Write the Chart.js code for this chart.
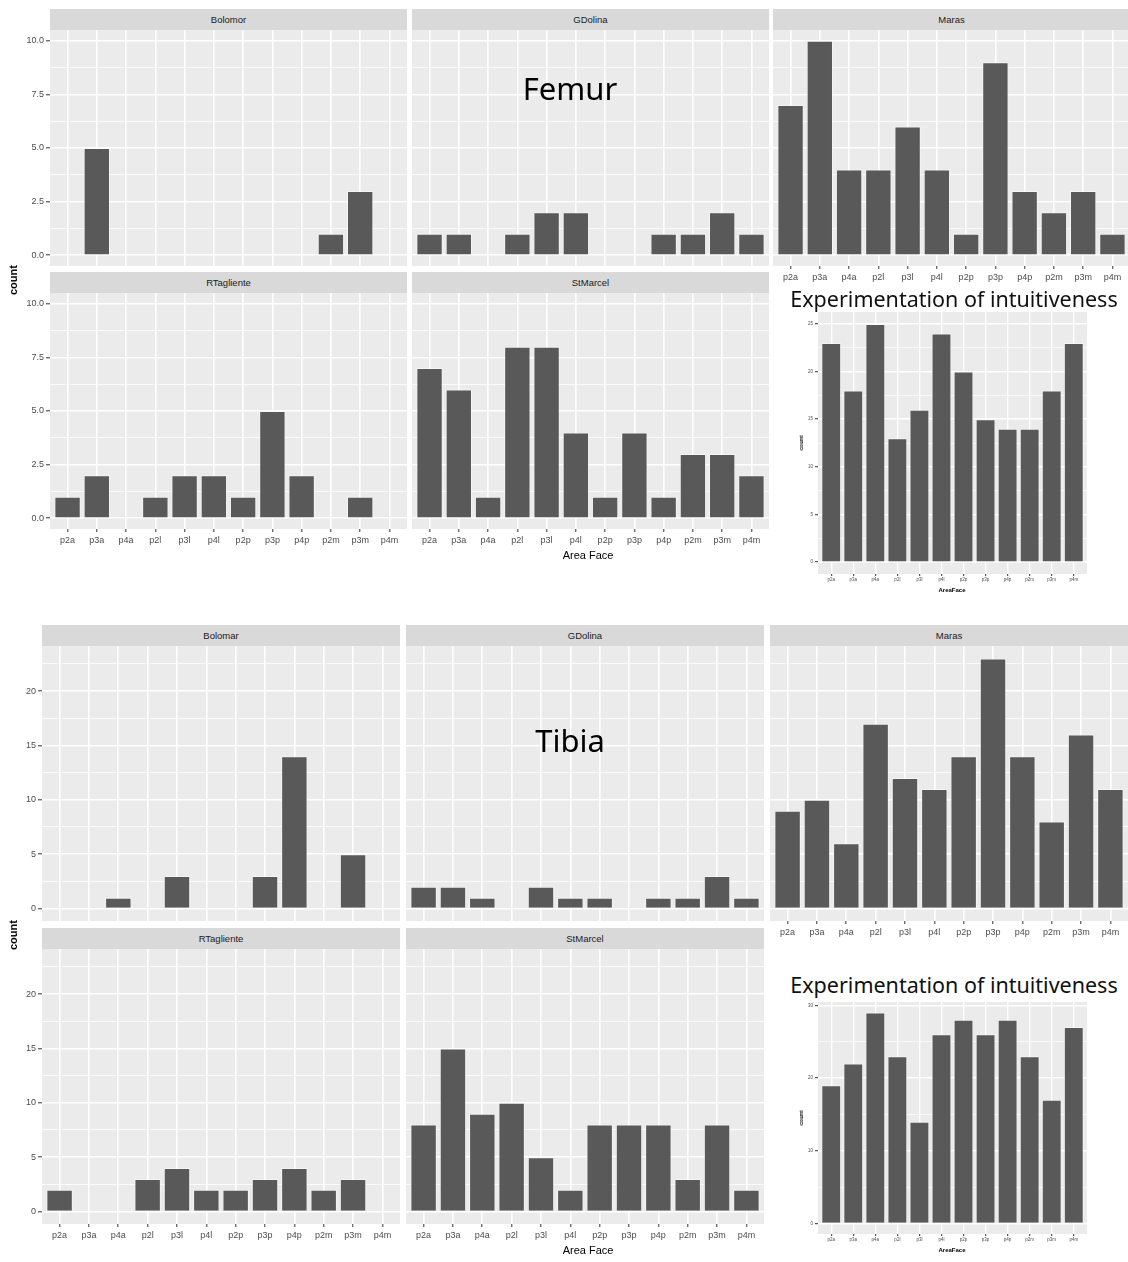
<!DOCTYPE html>
<html lang="en">
<head>
<meta charset="UTF-8">
<title>Area Face counts - Femur and Tibia</title>
<script src="https://cdn.jsdelivr.net/npm/chart.js"></script>
<style>
  body { margin: 0; background: #fff; font-family: 'Liberation Sans', Arial, sans-serif; }
  #figure { position: relative; width: 1128px; height: 1262px; overflow: hidden; background: #fff; }
  canvas { position: absolute; }
  .strip {
    position: absolute; background: #D9D9D9; color: #1A1A1A; font-size: 9.5px;
    display: flex; align-items: center; justify-content: center;
  }
  .lbl { position: absolute; transform: translate(-50%, -50%); white-space: nowrap; color: #000; }
</style>
</head>
<body>
<div id="figure"></div>
<script>
// x categories (shared by every panel)
const areaFace = ['p2a', 'p3a', 'p4a', 'p2l', 'p3l', 'p4l', 'p2p', 'p3p', 'p4p', 'p2m', 'p3m', 'p4m'];

// Femur counts per site
const femurSites = ['Bolomor', 'GDolina', 'Maras', 'RTagliente', 'StMarcel'];
const femurBolomor    = [0, 5, 0, 0, 0, 0, 0, 0, 0, 1, 3, 0];
const femurGDolina    = [1, 1, 0, 1, 2, 2, 0, 0, 1, 1, 2, 1];
const femurMaras      = [7, 10, 4, 4, 6, 4, 1, 9, 3, 2, 3, 1];
const femurRTagliente = [1, 2, 0, 1, 2, 2, 1, 5, 2, 0, 1, 0];
const femurStMarcel   = [7, 6, 1, 8, 8, 4, 1, 4, 1, 3, 3, 2];
const femurExperiment = [23, 18, 25, 13, 16, 24, 20, 15, 14, 14, 18, 23];

// Tibia counts per site
const tibiaSites = ['Bolomar', 'GDolina', 'Maras', 'RTagliente', 'StMarcel'];
const tibiaBolomar    = [0, 0, 1, 0, 3, 0, 0, 3, 14, 0, 5, 0];
const tibiaGDolina    = [2, 2, 1, 0, 2, 1, 1, 0, 1, 1, 3, 1];
const tibiaMaras      = [9, 10, 6, 17, 12, 11, 14, 23, 14, 8, 16, 11];
const tibiaRTagliente = [2, 0, 0, 3, 4, 2, 2, 3, 4, 2, 3, 0];
const tibiaStMarcel   = [8, 15, 9, 10, 5, 2, 8, 8, 8, 3, 8, 2];
const tibiaExperiment = [19, 22, 29, 23, 14, 26, 28, 26, 28, 23, 17, 27];

// y tick labels
const femurYTicks = [0, 2.5, 5, 7.5, 10];
const tibiaYTicks = [0, 5, 10, 15, 20];
const femurExpYTicks = [0, 5, 10, 15, 20, 25];
const tibiaExpYTicks = [0, 10, 20, 30];

const fig = document.getElementById('figure');

function addText(text, x, y, css) {
  const d = document.createElement('div');
  d.className = 'lbl';
  d.textContent = text;
  d.style.left = x + 'px';
  d.style.top = y + 'px';
  Object.assign(d.style, css || {});
  fig.appendChild(d);
}

function addStrip(text, x, y, w, h) {
  const d = document.createElement('div');
  d.className = 'strip';
  d.textContent = text;
  d.style.left = x + 'px';
  d.style.top = y + 'px';
  d.style.width = w + 'px';
  d.style.height = h + 'px';
  fig.appendChild(d);
}

// grey panel background like ggplot
const panelBg = {
  id: 'panelBg',
  beforeDraw(chart) {
    const { ctx, chartArea: a } = chart;
    ctx.save();
    ctx.fillStyle = '#EBEBEB';
    ctx.fillRect(a.left, a.top, a.right - a.left, a.bottom - a.top);
    ctx.restore();
  }
};

// ggplot-like minor breaks halfway between the majors
function minorTicks(majors, lo, hi) {
  const step = majors[1] - majors[0];
  const out = [];
  for (let v = majors[0] - step / 2; v <= hi; v += step) if (v >= lo) out.push(v);
  return out;
}

// 5% expansion of the data range, as ggplot does
function yRange(series) {
  const top = Math.max(...series.map(s => Math.max(...s)));
  return [-0.05 * top, 1.05 * top];
}

function addPanel(o) {
  const majors = o.yTicks;
  const allY = majors.concat(minorTicks(majors, o.yMin, o.yMax)).sort((a, b) => a - b);
  const isMajor = v => majors.some(m => Math.abs(m - v) < 1e-9);
  const W = o.w + o.yW, H = o.h + o.xH;
  const cv = document.createElement('canvas');
  cv.width = W; cv.height = H;
  cv.style.left = (o.x - o.yW) + 'px';
  cv.style.top = o.y + 'px';
  cv.style.width = W + 'px';
  cv.style.height = H + 'px';
  fig.appendChild(cv);

  const tickFont = { family: "'Liberation Sans', Arial, sans-serif", size: o.font };

  new Chart(cv, {
    type: 'bar',
    data: {
      datasets: [{
        data: o.values.map((v, i) => ({ x: i + 1, y: v })),
        backgroundColor: '#595959',
        borderColor: 'rgba(255,255,255,0.45)',
        borderWidth: ctx => (ctx.raw && ctx.raw.y ? 1 : 0),
        categoryPercentage: 1,
        barPercentage: 0.9
      }]
    },
    options: {
      responsive: false,
      animation: false,
      devicePixelRatio: 1,
      layout: { padding: 0, autoPadding: false },
      plugins: { legend: { display: false }, tooltip: { enabled: false } },
      scales: {
        x: {
          type: 'linear',
          min: 0.4,
          max: areaFace.length + 0.6,
          offset: false,
          afterBuildTicks: s => { s.ticks = areaFace.map((_, i) => ({ value: i + 1 })); },
          afterFit: s => { s.height = o.xH; s.paddingLeft = 0; s.paddingRight = 0; },
          ticks: {
            display: o.showX,
            autoSkip: false,
            maxRotation: 0,
            padding: o.xPad,
            font: tickFont,
            color: '#4D4D4D',
            callback: v => areaFace[v - 1]
          },
          grid: {
            offset: false,
            color: '#FFFFFF',
            lineWidth: o.major,
            tickLength: o.tickLen,
            tickWidth: 1,
            tickColor: o.showX ? '#333333' : 'rgba(0,0,0,0)'
          },
          border: { display: false }
        },
        y: {
          type: 'linear',
          min: o.yMin,
          max: o.yMax,
          afterBuildTicks: s => { s.ticks = allY.map(v => ({ value: v })); },
          afterFit: s => { s.width = o.yW; s.paddingTop = 0; s.paddingBottom = 0; },
          ticks: {
            display: o.showY,
            autoSkip: false,
            padding: 2,
            font: tickFont,
            color: '#4D4D4D',
            callback: v => (isMajor(v) ? o.fmt(v) : '')
          },
          grid: {
            color: '#FFFFFF',
            lineWidth: ctx => (ctx.tick && isMajor(ctx.tick.value) ? o.major : o.minor),
            tickLength: o.tickLen + 1,
            tickWidth: 1,
            tickColor: ctx => (o.showY && ctx.tick && isMajor(ctx.tick.value) ? '#333333' : 'rgba(0,0,0,0)')
          },
          border: { display: false }
        }
      }
    },
    plugins: [panelBg]
  });
}

function facetGroup(g) {
  const [lo, hi] = yRange(g.series);
  g.series.forEach((values, k) => {
    const r = Math.floor(k / 3), c = k % 3;
    const row = g.rows[r];
    const x = g.cols[c];
    const bottomOfColumn = (r === 1) || (c === 2);
    addStrip(g.sites[k], x, row.strip, g.width, row.top - row.strip);
    addPanel({
      values, x, y: row.top, w: g.width, h: row.bottom - row.top,
      yW: c === 0 ? x : 0, xH: bottomOfColumn ? 24 : 0,
      showY: c === 0, showX: bottomOfColumn,
      yMin: lo, yMax: hi, yTicks: g.yTicks, fmt: g.fmt,
      font: 9, xPad: 3, tickLen: 3, major: 1.6, minor: 0.8
    });
  });
  addText('count', 13, (g.rows[0].top + g.rows[1].bottom) / 2,
    { transform: 'translate(-50%,-50%) rotate(-90deg)', fontSize: '11px', fontWeight: 'bold' });
  addText('Area Face', g.axisTitleX, g.rows[1].bottom + 26, { fontSize: '11px' });
}

function experimentPanel(e) {
  const [lo, hi] = yRange([e.values]);
  addText('Experimentation of intuitiveness', 954, e.titleY,
    { fontFamily: "'Noto Sans', sans-serif", fontSize: '21.5px', color: '#111' });
  addPanel({
    values: e.values, x: 818, y: e.top, w: 269, h: e.bottom - e.top,
    yW: 28, xH: 14, showY: true, showX: true,
    yMin: lo, yMax: hi, yTicks: e.yTicks, fmt: v => String(v),
    font: 4.5, xPad: 1, tickLen: 2, major: 1.4, minor: 0.7
  });
  addText('count', 801, (e.top + e.bottom) / 2,
    { transform: 'translate(-50%,-50%) rotate(-90deg)', fontSize: '5.5px', fontWeight: 'bold' });
  addText('AreaFace', 952, e.bottom + 16, { fontSize: '6px', fontWeight: 'bold' });
}

// ---- Femur block ----
facetGroup({
  sites: femurSites,
  series: [femurBolomor, femurGDolina, femurMaras, femurRTagliente, femurStMarcel],
  cols: [50, 412, 773], width: 357,
  rows: [{ strip: 9, top: 30, bottom: 266 }, { strip: 272, top: 293, bottom: 529 }],
  yTicks: femurYTicks, fmt: v => v.toFixed(1), axisTitleX: 588
});
addText('Femur', 570, 88, { fontFamily: "'Noto Sans', sans-serif", fontSize: '31px' });
experimentPanel({ values: femurExperiment, yTicks: femurExpYTicks, titleY: 298, top: 312, bottom: 574 });

// ---- Tibia block ----
facetGroup({
  sites: tibiaSites,
  series: [tibiaBolomar, tibiaGDolina, tibiaMaras, tibiaRTagliente, tibiaStMarcel],
  cols: [42, 406, 770], width: 358,
  rows: [{ strip: 625, top: 646, bottom: 921 }, { strip: 928, top: 949, bottom: 1224 }],
  yTicks: tibiaYTicks, fmt: v => String(v), axisTitleX: 588
});
addText('Tibia', 570, 740, { fontFamily: "'Noto Sans', sans-serif", fontSize: '31px' });
experimentPanel({ values: tibiaExperiment, yTicks: tibiaExpYTicks, titleY: 984, top: 1002, bottom: 1234 });
</script>
</body>
</html>
